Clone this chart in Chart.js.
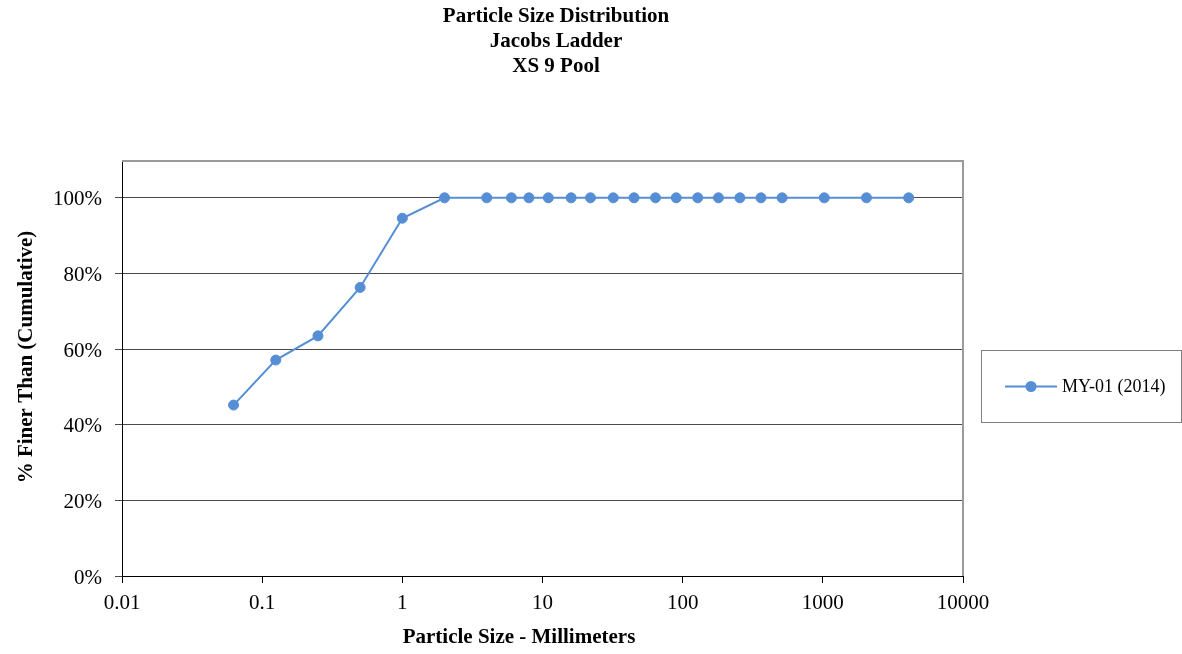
<!DOCTYPE html>
<html>
<head>
<meta charset="utf-8">
<title>Particle Size Distribution</title>
<script src="https://cdn.jsdelivr.net/npm/chart.js@4.4.0/dist/chart.umd.min.js"></script>
<style>
  html, body { margin: 0; padding: 0; background: #ffffff; }
  canvas { display: block; }
</style>
</head>
<body>
<canvas id="psd" width="1182" height="654" style="width:1182px;height:654px"></canvas>
<script>
// Sieve sizes (mm) and cumulative percent finer for sample MY-01 (2014)
const sizesMm = [0.0625, 0.125, 0.25, 0.5, 1, 2, 4, 6, 8, 11, 16, 22, 32, 45, 64, 90, 128, 180, 256, 362, 512, 1024, 2048, 4096];
const percentFiner = [45.2, 57.1, 63.5, 76.3, 94.6, 100, 100, 100, 100, 100, 100, 100, 100, 100, 100, 100, 100, 100, 100, 100, 100, 100, 100, 100];
const seriesName = 'MY-01 (2014)';

const xTickValues = [0.01, 0.1, 1, 10, 100, 1000, 10000];
const yTickValues = [0, 20, 40, 60, 80, 100];

const titleLines = ['Particle Size Distribution', 'Jacobs Ladder', 'XS 9 Pool'];
const xAxisTitle = 'Particle Size - Millimeters';
const yAxisTitle = '% Finer Than (Cumulative)';

const SERIF = '"Liberation Serif", "Times New Roman", Times, serif';
const BLUE = '#558ED5';

Chart.defaults.font.family = SERIF;
Chart.defaults.color = '#000000';

// Titles, plot frame and legend box drawn around the chart area
const decorations = {
  id: 'decorations',
  beforeDatasetsDraw(chart) {
    const { ctx, chartArea: a } = chart;
    ctx.save();
    ctx.strokeStyle = '#9a9a9a';
    ctx.lineWidth = 2;
    ctx.beginPath();
    ctx.moveTo(a.left, a.top + 1);
    ctx.lineTo(a.right, a.top + 1);
    ctx.lineTo(a.right, a.bottom);
    ctx.stroke();
    ctx.restore();
  },
  afterDraw(chart) {
    const { ctx } = chart;
    ctx.save();
    ctx.fillStyle = '#000000';
    ctx.textAlign = 'center';
    ctx.textBaseline = 'alphabetic';
    ctx.font = 'bold 21px ' + SERIF;
    titleLines.forEach((t, i) => ctx.fillText(t, 556, 22 + i * 25));

    // x axis title
    ctx.fillText(xAxisTitle, 519, 643);

    // y axis title
    ctx.save();
    ctx.translate(32, 357);
    ctx.rotate(-Math.PI / 2);
    ctx.fillText(yAxisTitle, 0, 0);
    ctx.restore();

    // legend
    ctx.strokeStyle = '#7f7f7f';
    ctx.lineWidth = 1;
    ctx.strokeRect(981.5, 350.5, 200, 72);
    ctx.strokeStyle = BLUE;
    ctx.lineWidth = 2;
    ctx.beginPath();
    ctx.moveTo(1005, 386.5);
    ctx.lineTo(1057, 386.5);
    ctx.stroke();
    ctx.fillStyle = BLUE;
    ctx.beginPath();
    ctx.arc(1031, 386.5, 5.5, 0, Math.PI * 2);
    ctx.fill();
    ctx.fillStyle = '#000000';
    ctx.font = '18px ' + SERIF;
    ctx.textAlign = 'left';
    ctx.textBaseline = 'middle';
    ctx.fillText(seriesName, 1062, 387);
    ctx.restore();
  }
};

new Chart(document.getElementById('psd'), {
  type: 'line',
  data: {
    datasets: [{
      label: seriesName,
      data: sizesMm.map((s, i) => ({ x: s, y: percentFiner[i] })),
      borderColor: BLUE,
      backgroundColor: BLUE,
      borderWidth: 2,
      pointRadius: 5,
      pointBorderWidth: 1,
      pointBackgroundColor: BLUE,
      pointBorderColor: BLUE,
      tension: 0,
      fill: false
    }]
  },
  options: {
    responsive: false,
    animation: false,
    devicePixelRatio: 1,
    layout: { padding: { top: 160, right: 219, left: 0, bottom: 0 } },
    plugins: {
      legend: { display: false },
      title: { display: false },
      tooltip: { enabled: false }
    },
    scales: {
      x: {
        type: 'logarithmic',
        min: 0.01,
        max: 10000,
        afterBuildTicks: s => { s.ticks = xTickValues.map(v => ({ value: v })); },
        afterFit: s => { s.height = 78; },
        ticks: {
          autoSkip: false,
          maxRotation: 0,
          minRotation: 0,
          padding: 8,
          color: '#000000',
          font: { size: 21 },
          callback: v => String(v)
        },
        grid: { drawOnChartArea: false, drawTicks: true, tickLength: 7, color: '#000000' },
        border: { display: true, color: '#000000', width: 1 }
      },
      y: {
        type: 'linear',
        min: 0,
        max: 110,
        afterBuildTicks: s => { s.ticks = yTickValues.map(v => ({ value: v })); },
        afterFit: s => { s.width = 122; },
        ticks: {
          padding: 13,
          labelOffset: 2,
          color: '#000000',
          font: { size: 21 },
          callback: v => v + '%'
        },
        grid: { drawTicks: true, tickLength: 7, color: '#4a4a4a', lineWidth: 1 },
        border: { display: true, color: '#000000', width: 1 }
      }
    }
  },
  plugins: [decorations]
});
</script>
</body>
</html>
